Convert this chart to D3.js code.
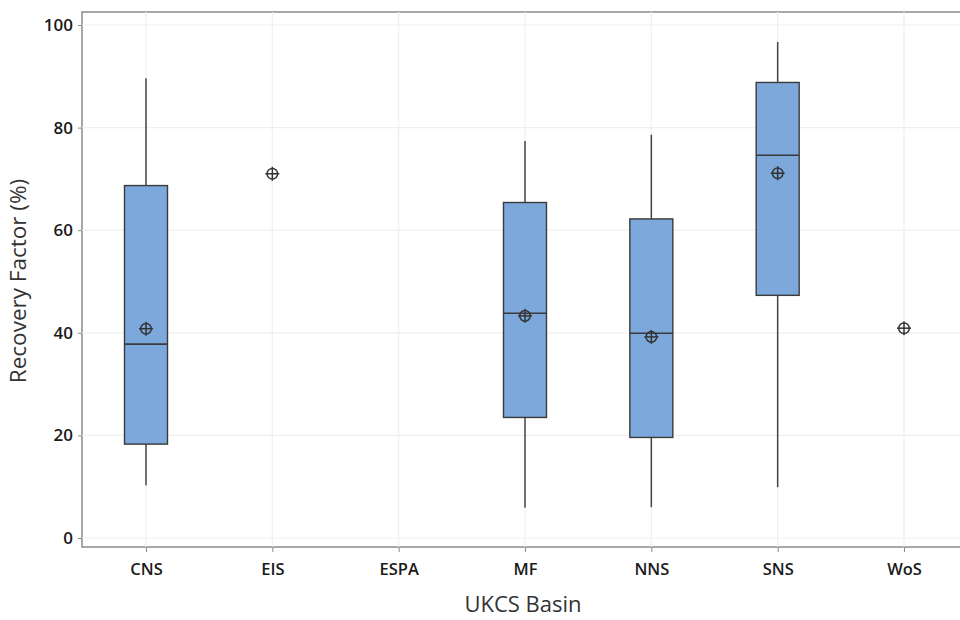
<!DOCTYPE html>
<html>
<head>
<meta charset="utf-8">
<script src="https://cdn.jsdelivr.net/npm/d3@7"></script>
<style>
  html, body { margin: 0; padding: 0; background: #fff; }
  svg { display: block; }
  text { font-family: "Open Sans", "Noto Sans", sans-serif; }
</style>
</head>
<body>
<svg id="chart" width="960" height="620"></svg>
<script>
// Recovery factor by UKCS basin
const basins   = ["CNS", "EIS", "ESPA", "MF", "NNS", "SNS", "WoS"];
const whiskLo  = [10.3, null, null, 5.9, 6.0, 9.9, null];
const q1       = [18.3, null, null, 23.5, 19.6, 47.3, null];
const median   = [37.8, null, null, 43.8, 39.9, 74.6, null];
const q3       = [68.7, null, null, 65.4, 62.2, 88.8, null];
const whiskHi  = [89.6, null, null, 77.4, 78.6, 96.7, null];
const means    = [40.8, 71.0, null, 43.3, 39.2, 71.1, 40.9];
const yTicks   = [0, 20, 40, 60, 80, 100];

const svg = d3.select("#chart");
const frame = { left: 82, top: 12, right: 975, bottom: 547 };

const x = d3.scalePoint().domain(basins).range([146, 904]);
const y = d3.scaleLinear().domain([0, 100]).range([538, 25]);

// plot frame
svg.append("rect")
  .attr("x", frame.left).attr("y", frame.top)
  .attr("width", frame.right - frame.left).attr("height", frame.bottom - frame.top)
  .attr("fill", "#fff").attr("stroke", "#8a8a8a").attr("stroke-width", 1.5);

// gridlines
const grid = svg.append("g").attr("stroke", "#efefef").attr("stroke-width", 1.2);
grid.selectAll("line.h").data(yTicks).join("line")
  .attr("x1", frame.left).attr("x2", frame.right)
  .attr("y1", d => y(d)).attr("y2", d => y(d));
grid.selectAll("line.v").data(basins).join("line")
  .attr("x1", d => x(d)).attr("x2", d => x(d))
  .attr("y1", frame.top).attr("y2", frame.bottom);

// y axis
const yAxis = d3.axisLeft(y).tickValues(yTicks).tickSize(4).tickPadding(5);
const gy = svg.append("g").attr("transform", `translate(${frame.left},0)`).call(yAxis);
gy.select(".domain").remove();
gy.selectAll(".tick line").attr("stroke", "#8a8a8a");
gy.selectAll(".tick text").attr("font-size", 17).attr("fill", "#1a1a1a")
  .attr("font-family", "Open Sans, Noto Sans, sans-serif").attr("font-weight", 600);

// x axis
const xAxis = d3.axisBottom(x).tickSize(5).tickPadding(11);
const gx = svg.append("g").attr("transform", `translate(0,${frame.bottom})`).call(xAxis);
gx.select(".domain").remove();
gx.selectAll(".tick line").attr("stroke", "#8a8a8a");
gx.selectAll(".tick text").attr("font-size", 16.5).attr("fill", "#1a1a1a")
  .attr("font-family", "Open Sans, Noto Sans, sans-serif").attr("font-weight", 600);

// boxes
const boxW = 43;
const rows = basins.map((b, i) => ({
  b, lo: whiskLo[i], q1: q1[i], med: median[i], q3: q3[i], hi: whiskHi[i], mean: means[i]
}));
const boxes = rows.filter(d => d.q1 != null);

const gb = svg.append("g");
gb.selectAll("line.wl").data(boxes).join("line")
  .attr("x1", d => x(d.b)).attr("x2", d => x(d.b))
  .attr("y1", d => y(d.lo)).attr("y2", d => y(d.q1))
  .attr("stroke", "#444").attr("stroke-width", 1.5);
gb.selectAll("line.wh").data(boxes).join("line")
  .attr("x1", d => x(d.b)).attr("x2", d => x(d.b))
  .attr("y1", d => y(d.hi)).attr("y2", d => y(d.q3))
  .attr("stroke", "#444").attr("stroke-width", 1.5);
gb.selectAll("rect.box").data(boxes).join("rect")
  .attr("x", d => x(d.b) - boxW / 2).attr("width", boxW)
  .attr("y", d => y(d.q3)).attr("height", d => y(d.q1) - y(d.q3))
  .attr("fill", "#7ca8dc").attr("stroke", "#3a3a3a").attr("stroke-width", 1.4);
gb.selectAll("line.med").data(boxes).join("line")
  .attr("x1", d => x(d.b) - boxW / 2).attr("x2", d => x(d.b) + boxW / 2)
  .attr("y1", d => y(d.med)).attr("y2", d => y(d.med))
  .attr("stroke", "#3a3a3a").attr("stroke-width", 1.6);

// mean symbols: circle with crosshair
const mg = svg.append("g").selectAll("g").data(rows.filter(d => d.mean != null)).join("g")
  .attr("transform", d => `translate(${x(d.b)},${y(d.mean)})`)
  .attr("stroke", "#333").attr("stroke-width", 1.5).attr("fill", "none");
mg.append("circle").attr("r", 5.3);
mg.append("line").attr("x1", -7).attr("x2", 7);
mg.append("line").attr("y1", -7).attr("y2", 7);

// axis titles
svg.append("text")
  .attr("transform", "translate(26,281) rotate(-90)")
  .attr("text-anchor", "middle").attr("font-size", 22.5).attr("fill", "#333")
  .text("Recovery Factor (%)");
svg.append("text")
  .attr("x", 523).attr("y", 612)
  .attr("text-anchor", "middle").attr("font-size", 22).attr("fill", "#333")
  .text("UKCS Basin");
</script>
</body>
</html>
